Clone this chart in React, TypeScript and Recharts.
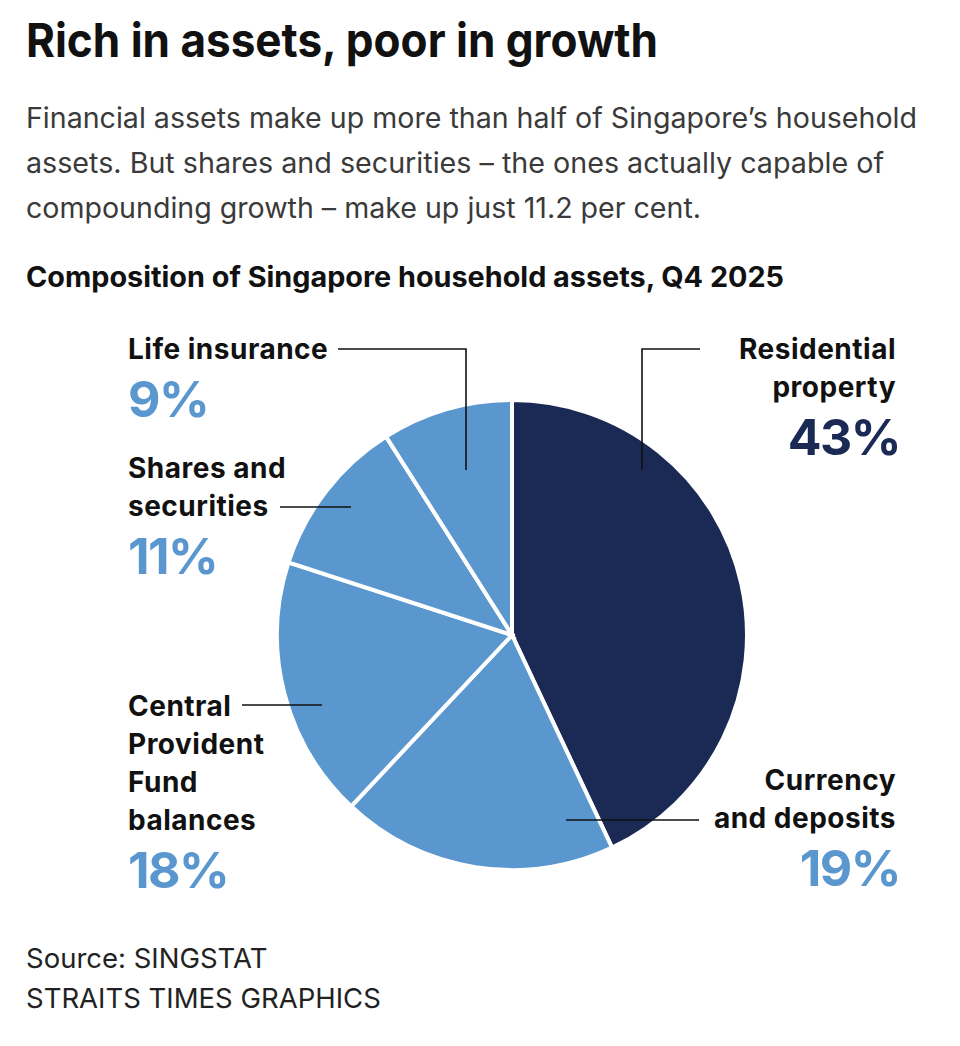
import React from 'react';
import { PieChart, Pie, Cell } from 'recharts';

// slices run clockwise from 12 o'clock
const categories = [
  'Residential property',
  'Currency and deposits',
  'Central Provident Fund balances',
  'Shares and securities',
  'Life insurance',
];
const shares = [43, 19, 18, 11, 9];
const labelLines = [
  ['Residential', 'property'],
  ['Currency', 'and deposits'],
  ['Central', 'Provident', 'Fund', 'balances'],
  ['Shares and', 'securities'],
  ['Life insurance'],
];

const subtitleLines = [
  'Financial assets make up more than half of Singapore\u2019s household',
  'assets. But shares and securities \u2013 the ones actually capable of',
  'compounding growth \u2013 make up just 11.2 per cent.',
];
const subtitleWidths = [891, 858, 675];
const sourceLines = ['Source: SINGSTAT', 'STRAITS TIMES GRAPHICS'];

const NAVY = '#1b2a55';
const BLUE = '#5b97cf';
const sliceColors = [NAVY, BLUE, BLUE, BLUE, BLUE];
const FONT = 'Inter, "Noto Sans", sans-serif';

// where each slice's label sits, and its leader line
const labelLayout = [
  { x: 896, y: 359, anchor: 'end', leader: [[700, 349], [642, 349], [642, 470]] },
  { x: 896, y: 790, anchor: 'end', leader: [[699, 820], [566, 820]] },
  { x: 128, y: 716, anchor: 'start', leader: [[242, 705], [322, 705]] },
  { x: 128, y: 478, anchor: 'start', leader: [[280, 507], [351, 507]] },
  { x: 128, y: 359, anchor: 'start', leader: [[338, 349], [466, 349], [466, 470]] },
];

const data = categories.map((name, i) => ({ name, value: shares[i] }));

function SliceLabel(props: any) {
  const i = props.index;
  const lay = labelLayout[i];
  const lines = labelLines[i];
  const lineH = 38;
  const pctY = lay.y + (lines.length - 1) * lineH + 58;
  const pctX = lay.anchor === 'end' ? lay.x + 4 : lay.x;
  return (
    <g>
      <polyline
        points={lay.leader.map(p => p.join(',')).join(' ')}
        fill="none"
        stroke="#111"
        strokeWidth={1.6}
      />
      {lines.map((t, k) => (
        <text
          key={k}
          x={lay.x}
          y={lay.y + k * lineH}
          textAnchor={lay.anchor}
          fontFamily={FONT}
          fontWeight={700}
          fontSize={28}
          letterSpacing={0.5}
          fill="#111"
        >
          {t}
        </text>
      ))}
      <text
        x={pctX}
        y={pctY}
        textAnchor={lay.anchor}
        fontFamily={FONT}
        fontWeight={700}
        fontSize={50}
        letterSpacing={-1.5}
        fill={sliceColors[i]}
      >
        {`${shares[i]}%`}
      </text>
    </g>
  );
}

export default function App() {
  return (
    <div style={{ position: 'absolute', left: 0, top: 0, width: 960, height: 1046, background: '#fff' }}>
      <svg width={960} height={1046} style={{ position: 'absolute', left: 0, top: 0 }}>
        <text x={26} y={57} fontFamily={FONT} fontWeight={700} fontSize={47} fill="#111" textLength={632} lengthAdjust="spacingAndGlyphs">
          Rich in assets, poor in growth
        </text>
        {subtitleLines.map((t, k) => (
          <text
            key={k}
            x={26}
            y={128 + k * 45}
            fontFamily={FONT}
            fontSize={28}
            fill="#3a3a3a"
            textLength={subtitleWidths[k]}
            lengthAdjust="spacingAndGlyphs"
          >
            {t}
          </text>
        ))}
        <text x={26} y={287} fontFamily={FONT} fontWeight={700} fontSize={28} fill="#111" textLength={758} lengthAdjust="spacingAndGlyphs">
          Composition of Singapore household assets, Q4 2025
        </text>
        {sourceLines.map((t, k) => (
          <text key={k} x={26} y={968 + k * 40} fontFamily={FONT} fontSize={27.5} fill="#222">
            {t}
          </text>
        ))}
      </svg>
      <div style={{ position: 'absolute', left: 0, top: 0 }}>
        <PieChart width={960} height={1046} margin={{ top: 0, right: 0, bottom: 0, left: 0 }}>
          <Pie
            data={data}
            dataKey="value"
            nameKey="name"
            cx={512}
            cy={635}
            outerRadius={235}
            startAngle={90}
            endAngle={-270}
            stroke="#fff"
            strokeWidth={4}
            label={SliceLabel}
            labelLine={false}
            isAnimationActive={false}
          >
            {data.map((d, i) => (
              <Cell key={d.name} fill={sliceColors[i]} />
            ))}
          </Pie>
        </PieChart>
      </div>
    </div>
  );
}
